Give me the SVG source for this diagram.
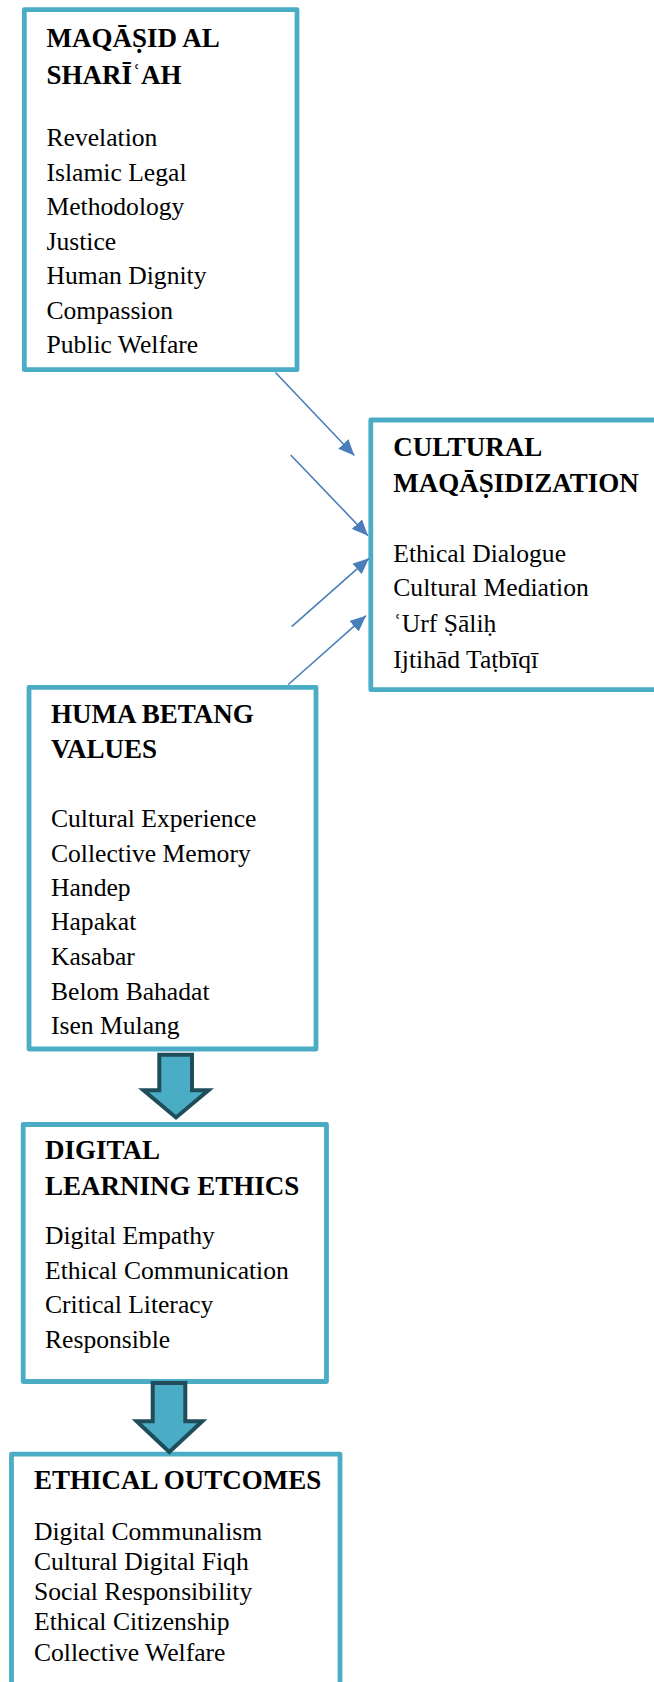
<svg xmlns="http://www.w3.org/2000/svg" width="654" height="1682" viewBox="0 0 654 1682">
<style>
.box{fill:#ffffff;stroke:#4BACC6;stroke-width:4.8;stroke-linejoin:round}
.t{font-family:"Liberation Serif","Times New Roman",serif;font-size:27px;font-weight:bold;fill:#000}
.b{font-family:"Liberation Serif","Times New Roman",serif;font-size:25.6px;fill:#000}
.con{stroke:#4A7EBB;stroke-width:1.6;fill:none}
.blk{fill:#4BACC6;stroke:#1F4E5A;stroke-width:4;stroke-linejoin:miter}
</style>
<defs>
<marker id="ah" markerUnits="userSpaceOnUse" markerWidth="18" markerHeight="14" refX="16" refY="7" orient="auto">
<path d="M0,0 L16,7 L0,14 Z" fill="#4A7EBB"/>
</marker>
</defs>
<rect width="654" height="1682" fill="#ffffff"/>

<g id="maqasid">
<rect class="box" x="24.3" y="9.7" width="272.7" height="360"/>
<text class="t" x="46.5" y="46.7">MAQĀṢID AL</text>
<text class="t" x="46.5" y="84">SHARĪʿAH</text>
<text class="b" x="46.5" y="145.7">Revelation</text>
<text class="b" x="46.5" y="180.5">Islamic Legal</text>
<text class="b" x="46.5" y="215">Methodology</text>
<text class="b" x="46.5" y="249.5">Justice</text>
<text class="b" x="46.5" y="284.3">Human Dignity</text>
<text class="b" x="46.5" y="319">Compassion</text>
<text class="b" x="46.5" y="353.3">Public Welfare</text>
</g>

<g id="cultural">
<rect class="box" x="370.8" y="420" width="330" height="269.7"/>
<text class="t" x="393.3" y="456">CULTURAL</text>
<text class="t" x="393.3" y="491.7">MAQĀṢIDIZATION</text>
<text class="b" x="393.3" y="561.7">Ethical Dialogue</text>
<text class="b" x="393.3" y="596">Cultural Mediation</text>
<text class="b" x="393.3" y="631.7">ʿUrf Ṣāliḥ</text>
<text class="b" x="393.3" y="668.3">Ijtihād Taṭbīqī</text>
</g>

<g id="huma">
<rect class="box" x="29" y="687.3" width="287" height="361.7"/>
<text class="t" x="51" y="723.3">HUMA BETANG</text>
<text class="t" x="51" y="758.3">VALUES</text>
<text class="b" x="51" y="827.3">Cultural Experience</text>
<text class="b" x="51" y="861.7">Collective Memory</text>
<text class="b" x="51" y="896">Handep</text>
<text class="b" x="51" y="930.3">Hapakat</text>
<text class="b" x="51" y="965">Kasabar</text>
<text class="b" x="51" y="999.7">Belom Bahadat</text>
<text class="b" x="51" y="1033.7">Isen Mulang</text>
</g>

<g id="digital">
<rect class="box" x="23.2" y="1124.5" width="303.3" height="257"/>
<text class="t" x="45" y="1159.3">DIGITAL</text>
<text class="t" x="45" y="1195">LEARNING ETHICS</text>
<text class="b" x="45" y="1244">Digital Empathy</text>
<text class="b" x="45" y="1279">Ethical Communication</text>
<text class="b" x="45" y="1313.3">Critical Literacy</text>
<text class="b" x="45" y="1348.3">Responsible</text>
</g>

<g id="outcomes">
<rect class="box" x="11.5" y="1454.2" width="328.5" height="260"/>
<text class="t" x="34" y="1489">ETHICAL OUTCOMES</text>
<text class="b" x="34" y="1540">Digital Communalism</text>
<text class="b" x="34" y="1570">Cultural Digital Fiqh</text>
<text class="b" x="34" y="1600">Social Responsibility</text>
<text class="b" x="34" y="1630">Ethical Citizenship</text>
<text class="b" x="34" y="1660.7">Collective Welfare</text>
</g>

<g id="connectors">
<line class="con" x1="275.5" y1="372.5" x2="354.3" y2="455.5" marker-end="url(#ah)"/>
<line class="con" x1="290.7" y1="455" x2="368" y2="535.7" marker-end="url(#ah)"/>
<line class="con" x1="291.7" y1="626.7" x2="369" y2="558.3" marker-end="url(#ah)"/>
<line class="con" x1="288.3" y1="684.5" x2="366" y2="615.7" marker-end="url(#ah)"/>
<polygon class="blk" points="159.3,1054.7 192,1054.7 192,1090.3 208.5,1090.3 176,1117.5 143.5,1090.3 159.3,1090.3"/>
<polygon class="blk" points="152.7,1383 185.3,1383 185.3,1421.3 202.3,1421.3 169.3,1452 136.7,1421.3 152.7,1421.3"/>
</g>
</svg>
